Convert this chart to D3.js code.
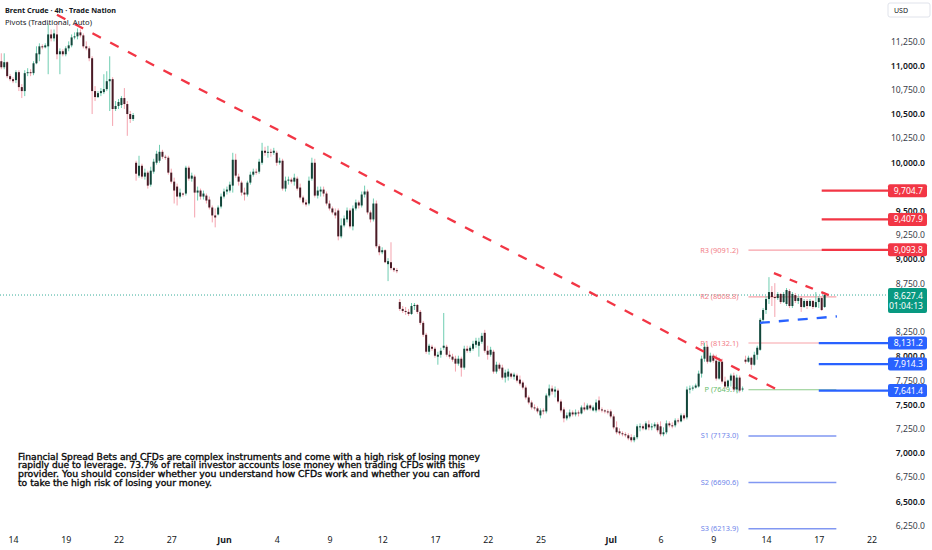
<!DOCTYPE html>
<html><head><meta charset="utf-8">
<script src="https://cdn.jsdelivr.net/npm/d3@7"></script>
<style>html,body{margin:0;padding:0;background:#fff}svg{display:block}</style>
</head><body>
<svg id="c" width="932" height="550"></svg>
<script>
// ---------- DATA ----------
// 4h candles [open, high, low, close]
const ohlc = [
[11041,11123,10959,10979],[10979,11123,10959,11031],[11031,11041,10866,10887],[10887,10907,10835,10856],[10856,10876,10815,10835],
[10846,10948,10815,10928],[10928,10948,10733,10774],[10774,10805,10661,10733],[10733,10948,10681,10918],[10918,10969,10887,10928],
[10928,10959,10887,10918],[10918,11041,10897,11020],[11020,11195,11010,11123],[11113,11226,11041,11195],[11195,11215,11164,11185],
[11185,11226,11174,11205],[11195,11431,10907,11318],[11318,11369,11246,11277],[11277,11369,11246,11328],[11318,11452,11061,11113],
[11113,11174,10907,11144],[11144,11164,11092,11113],[11113,11195,11092,11174],[11174,11246,11144,11205],[11205,11318,11185,11287],
[11287,11339,11267,11298],[11298,11380,11267,11339],[11339,11369,11287,11308],[11308,11328,11174,11195],[11195,11246,11154,11174],
[11174,11195,11041,11072],[11072,11092,10496,10733],[10733,10784,10630,10671],[10671,10733,10661,10712],[10712,10764,10681,10733],
[10722,10907,10702,10753],[10753,10938,10733,10835],[10835,11092,10527,10856],[10856,10876,10373,10548],[10548,10630,10527,10579],
[10579,10651,10548,10620],[10589,10681,10558,10661],[10661,10764,10548,10599],[10599,10630,10271,10496],[10496,10527,10404,10445],
[10445,10507,10425,10486],
[9993,10014,9808,9880],[9860,10065,9839,9962],[9962,9983,9829,9850],[9850,9932,9819,9891],[9891,9911,9726,9757],
[9767,9952,9747,9911],[9901,10034,9880,10004],[9993,10117,9973,10086],[10014,10178,9993,10106],[10106,10127,10034,10055],
[10055,10075,10024,10045],[10045,10065,9870,9891],[9891,9932,9778,9798],[9798,9839,9572,9706],[9747,9778,9552,9644],
[9644,9726,9624,9685],[9675,9685,9644,9665],[9675,9962,9654,9942],[9942,9962,9808,9829],[9829,9891,9798,9860],
[9850,9870,9428,9685],[9685,9747,9603,9706],[9706,9726,9613,9644],[9644,9706,9613,9675],[9654,9675,9572,9603],
[9613,9644,9511,9531],[9531,9552,9377,9449],[9449,9521,9326,9428],[9459,9552,9449,9531],[9541,9675,9521,9644],
[9644,9726,9624,9696],[9696,9747,9665,9716],[9706,9798,9685,9767],[9757,10096,9685,10024],[10024,10086,9839,9860],
[9850,9880,9757,9798],[9788,9808,9654,9685],[9685,9736,9603,9665],[9665,9808,9644,9788],[9788,9901,9767,9870],
[9870,9932,9850,9901],[9901,9932,9870,9891],[9901,10034,9880,10004],[9993,10199,9973,10117],[10117,10158,10065,10096],
[10096,10168,10045,10106],[10106,10137,10055,10096],[10096,10147,10075,10117],[10096,10117,9962,9993],[9993,10045,9973,10014],
[10014,10034,9706,9726],[9726,9850,9696,9808],[9808,9850,9767,9819],[9819,9839,9778,9798],[9798,9880,9757,9839],
[9829,9850,9706,9726],[9737,9778,9613,9634],[9634,9654,9562,9583],[9583,9613,9541,9562],[9572,9850,9552,9808],
[9829,10045,9808,9993],[9993,10034,9634,9654],[9654,9747,9624,9706],[9696,9747,9644,9716],[9716,9747,9644,9675],
[9675,9696,9552,9572],[9572,9603,9500,9521],[9521,9541,9459,9480],[9480,9521,9418,9449],[9500,9521,9192,9233],
[9233,9418,9213,9346],[9346,9449,9326,9418],[9408,9531,9377,9500],[9500,9521,9315,9336],[9336,9552,9295,9521],
[9521,9613,9500,9583],[9583,9603,9521,9552],[9552,9696,9531,9665],[9665,9757,9634,9696],[9696,9716,9459,9480],
[9480,9500,9377,9408],[9408,9624,9387,9572],[9572,9603,9110,9131],[9131,9151,9038,9069],[9069,9120,9049,9090],
[9090,9100,8956,8966],[8946,9008,8771,8977],[8966,9172,8884,8905],[8905,8915,8864,8884],[8884,8905,8853,8874],
[8555,8586,8463,8484],[8484,8514,8442,8463],[8463,8504,8422,8453],[8453,8484,8412,8432],[8432,8545,8422,8514],
[8514,8545,8473,8525],[8525,8535,8432,8453],[8453,8473,8319,8340],[8340,8360,8196,8217],[8217,8237,8021,8042],
[8042,8124,8011,8104],[8093,8114,8052,8073],[8073,8093,7980,8001],[7991,8042,7908,8011],[8011,8083,7980,8052],
[8083,8442,8062,8104],[8093,8114,7991,8011],[8011,8052,7970,7991],[7991,8021,7939,7960],[7970,8001,7837,7919],
[7919,8001,7898,7970],[7970,7991,7785,7878],[7878,8104,7857,8073],[8073,8104,8032,8052],[8052,8104,8032,8083],
[8073,8155,8052,8124],[8114,8186,8083,8155],[8104,8186,7991,8145],[8145,8237,8124,8206],[8237,8268,8032,8052],
[8052,8104,7960,8011],[8011,8093,7991,8062],[8042,8062,7816,7837],[7837,7939,7816,7908],[7908,7929,7847,7867],
[7878,7908,7754,7775],[7775,7857,7724,7826],[7785,7867,7744,7837],[7816,7826,7765,7785],[7785,7826,7754,7806],
[7796,7816,7724,7744],[7754,7796,7693,7713],[7724,7744,7652,7672],[7672,7693,7549,7570],[7570,7590,7498,7518],
[7518,7539,7446,7467],[7467,7498,7436,7457],[7457,7477,7405,7426],[7385,7457,7354,7436],[7436,7457,7395,7426],
[7426,7611,7405,7590],[7590,7703,7570,7662],[7662,7693,7600,7631],[7631,7683,7570,7652],[7641,7662,7508,7528],
[7528,7549,7415,7436],[7446,7467,7313,7354],[7354,7415,7333,7385],[7374,7446,7354,7415],[7415,7436,7374,7395],
[7395,7446,7374,7415],[7415,7436,7374,7405],[7405,7487,7395,7467],[7467,7518,7426,7446],[7446,7508,7436,7487],
[7487,7498,7436,7457],[7436,7487,7426,7467],[7436,7549,7415,7518],[7539,7580,7426,7446],[7446,7467,7415,7436],
[7436,7446,7405,7426],[7426,7446,7395,7415],[7426,7446,7354,7374],[7374,7395,7241,7261],[7261,7323,7190,7210],
[7220,7251,7179,7200],[7200,7220,7169,7190],[7190,7210,7159,7179],[7179,7200,7128,7148],[7159,7190,7107,7128],
[7128,7179,7107,7159],[7159,7292,7138,7272],[7261,7302,7220,7272],[7272,7292,7231,7251],[7241,7323,7231,7302],
[7292,7333,7231,7261],[7261,7302,7231,7272],[7272,7313,7251,7292],[7292,7313,7210,7231],[7272,7323,7169,7190],
[7190,7261,7169,7210],[7210,7333,7190,7302],[7302,7323,7261,7282],[7282,7313,7251,7272],[7282,7354,7261,7333],
[7333,7354,7302,7323],[7323,7405,7313,7385],[7385,7405,7333,7354],
[7364,7683,7343,7652],[7652,7693,7611,7662],[7662,7693,7641,7672],[7672,7713,7662,7693],[7683,7847,7672,7816],
[7816,8001,7775,7970],[7970,8134,7939,8093],[8093,8114,7919,7939],[7939,8032,7929,8001],[8001,8021,7929,7949],
[7949,8011,7744,7765],[7765,7980,7754,7939],[7939,7970,7713,7734],[7734,7785,7662,7683],[7683,7754,7672,7744],
[7744,7816,7683,7796],[7796,7826,7631,7652],[7652,7806,7621,7775],[7775,7796,7621,7641],[7652,7683,7631,7662],
[7960,8001,7919,7939],[7939,8001,7929,7980],[7980,7991,7857,7908],[7908,8042,7898,8011],[8011,8104,7960,8083],
[8062,8391,8052,8371],[8371,8494,8350,8473],[8473,8617,8432,8586],[8586,8812,8535,8658],[8658,8720,8514,8607],
[8607,8750,8401,8596],[8596,8658,8576,8638],[8638,8648,8535,8555],[8555,8658,8545,8638],[8535,8699,8514,8679],
[8668,8689,8494,8514],[8514,8658,8494,8638],[8627,8648,8545,8566],[8566,8617,8535,8596],[8596,8617,8453,8504],
[8504,8586,8494,8566],[8566,8586,8483,8514],[8514,8586,8504,8566],[8566,8576,8483,8504],[8504,8658,8494,8555],
[8555,8617,8494,8596],[8596,8607,8463,8473],[8504,8658,8494,8627.4]
];

const xTickLabels = ["14","19","22","27","Jun","4","9","12","17","22","25","Jul","6","9","14","17","22"];
const xTickBars   = [4,22,40,58,76,94,112,130,148,166,184,208,225,243,261,279,297];
// axis labels visible in the reference (8,500 and 9,750 sit under price boxes)
const yTickValues = [6250,6500,6750,7000,7250,7500,7750,8000,8250,8750,9000,9250,9500,10000,10250,10500,10750,11000,11250];

const pivotNames  = ["R3","R2","R1","P","S1","S2","S3"];
const pivotValues = [9091.2,8608.8,8132.1,7649.7,7173.0,6690.6,6213.9];
const pivotBars   = [255,285];

const redLevels  = [9704.7,9407.9,9093.8];
const blueLevels = [8131.2,7914.3,7641.4];
const redRayBar = 280, blueRayBar = 279;

// trend line drawings: [bar, price] endpoints
const mainTrend  = [[19,11520],[264.8,7650]];
const flagUpper  = [[263.7,8853],[284.9,8596]];
const flagLower  = [[258.9,8340],[285.2,8407]];

const lastPrice = 8627.4, countdown = "01:04:13";
const title = "Brent Crude · 4h · Trade Nation";
const subtitle = "Pivots (Traditional, Auto)";
const disclaimer = [
 "Financial Spread Bets and CFDs are complex instruments and come with a high risk of losing money",
 "rapidly due to leverage. 73.7% of retail investor accounts lose money when trading CFDs with this",
 "provider. You should consider whether you understand how CFDs work and whether you can afford",
 "to take the high risk of losing your money."
];

// ---------- DRAW ----------
const FONT = '"Noto Sans", sans-serif';
const svg = d3.select('#c');
const AX = 888;
const x = d3.scaleLinear().domain([0,300]).range([1.3, 1.3+300*2.93]);
const y = d3.scaleLinear().domain([6250,11250]).range([525.3,41.0]);
const fmt = d3.format(',.1f');

// current price dotted line
svg.append('line').attr('x1',0).attr('x2',AX).attr('y1',y(lastPrice)).attr('y2',y(lastPrice))
  .attr('stroke','#089981').attr('stroke-width',1).attr('stroke-dasharray','1,2').attr('opacity',0.8);

// pivots
const pivotColor = n => n[0]==='R' ? '#f7a1a8' : n[0]==='S' ? '#8197f2' : '#8ccb8a';
const pivotText  = n => n[0]==='R' ? '#f27e88' : n[0]==='S' ? '#6f86ea' : '#66bb6a';
const pg = svg.append('g');
pivotValues.forEach((v,i)=>{
  const n = pivotNames[i];
  pg.append('line').attr('x1',x(pivotBars[0])).attr('x2',x(pivotBars[1]))
    .attr('y1',y(v)).attr('y2',y(v)).attr('stroke',pivotColor(n))
    .attr('stroke-width', n[0]==='S'?1.5:1.2);
  pg.append('text').attr('x',x(pivotBars[0])-10).attr('y',y(v)).attr('dy','0.35em')
    .attr('text-anchor','end').attr('font-family',FONT).attr('font-size',7.4)
    .attr('fill',pivotText(n)).text(`${n} (${v.toFixed(1)})`);
});

// candles
const cg = svg.append('g');
ohlc.forEach((d,i)=>{
  const [o,h,l,c] = d;
  const up = c >= o;
  const cx = x(i);
  cg.append('line').attr('x1',cx).attr('x2',cx).attr('y1',y(h)).attr('y2',y(l))
    .attr('stroke', up ? '#6fcdb1' : '#f4a3ae').attr('stroke-width',1);
  const top = Math.min(y(o),y(c)), ht = Math.max(1, Math.abs(y(o)-y(c)));
  cg.append('rect').attr('x',cx-1).attr('y',top).attr('width',2).attr('height',ht)
    .attr('fill', up ? '#12463a' : '#4a1b26');
});

// trend lines
const line = d3.line().x(p=>x(p[0])).y(p=>y(p[1]));
svg.append('path').attr('d',line(mainTrend)).attr('fill','none').attr('stroke','#f23645')
  .attr('stroke-width',2.3).attr('stroke-dasharray','9.5,10.5');
svg.append('path').attr('d',line(flagUpper)).attr('fill','none').attr('stroke','#f23645')
  .attr('stroke-width',2.3).attr('stroke-dasharray','8,9');
svg.append('path').attr('d',line(flagLower)).attr('fill','none').attr('stroke','#2962ff')
  .attr('stroke-width',2.3).attr('stroke-dasharray','10,9');

// horizontal rays
redLevels.forEach(v=>svg.append('line').attr('x1',x(redRayBar)).attr('x2',AX).attr('y1',y(v)).attr('y2',y(v))
  .attr('stroke','#f23645').attr('stroke-width',2.3));
blueLevels.forEach(v=>svg.append('line').attr('x1',x(blueRayBar)).attr('x2',AX).attr('y1',y(v)).attr('y2',y(v))
  .attr('stroke','#2962ff').attr('stroke-width',2.3));

// y axis
const gy = svg.append('g').attr('transform','translate(925,0)')
  .call(d3.axisRight(y).tickValues(yTickValues).tickSize(0).tickPadding(0).tickFormat(fmt));
gy.select('.domain').remove();
gy.attr('font-family',FONT).attr('font-size',8.6);
gy.selectAll('text').attr('x',0).attr('dy','0.35em').attr('text-anchor','end')
  .attr('fill', d => d%500===0 ? '#131722' : '#3a3e4a')
  .attr('font-weight', d => d%500===0 ? 600 : 400);

// price label boxes
function box(v, color, txt){
  const cy = y(v);
  svg.append('rect').attr('x',AX).attr('y',cy-6.5).attr('width',39).attr('height',13).attr('rx',2).attr('fill',color);
  svg.append('text').attr('x',923).attr('y',cy).attr('dy','0.35em').attr('text-anchor','end')
    .attr('font-family',FONT).attr('font-size',8.6).attr('fill','#fff').text(txt);
}
redLevels.forEach(v=>box(v,'#f23645',fmt(v)));
blueLevels.forEach(v=>box(v,'#2962ff',fmt(v)));
{
  const cy = y(lastPrice);
  svg.append('rect').attr('x',AX).attr('y',cy-7).attr('width',39).attr('height',25).attr('rx',2).attr('fill','#089981');
  svg.append('text').attr('x',923).attr('y',cy+0.5).attr('dy','0.35em').attr('text-anchor','end')
    .attr('font-family',FONT).attr('font-size',8.6).attr('fill','#fff').text(fmt(lastPrice));
  svg.append('text').attr('x',923).attr('y',cy+10.5).attr('dy','0.35em').attr('text-anchor','end')
    .attr('font-family',FONT).attr('font-size',8.6).attr('fill','#fff').text(countdown);
}

// x axis
const gx = svg.append('g').attr('transform','translate(0,540)')
  .call(d3.axisBottom(x).tickValues(xTickBars).tickSize(0).tickPadding(0).tickFormat((d,i)=>xTickLabels[i]));
gx.select('.domain').remove();
gx.attr('font-family',FONT).attr('font-size',8.8);
gx.selectAll('text').attr('y',0).attr('dy','0.35em').attr('fill','#131722')
  .attr('font-weight',(d,i)=> /^[A-Z]/.test(xTickLabels[i]) ? 700 : 400);

// USD box
svg.append('rect').attr('x',AX).attr('y',3).attr('width',42).attr('height',14).attr('rx',2)
  .attr('fill','#fff').attr('stroke','#e0e3eb');
svg.append('text').attr('x',894).attr('y',10.5).attr('dy','0.35em').attr('font-family',FONT)
  .attr('font-size',7).attr('fill','#131722').text('USD');

// header
svg.append('text').attr('x',5).attr('y',13.2).attr('font-family',FONT).attr('font-weight',700)
  .attr('font-size',7.8).attr('fill','#131722').attr('textLength',111).attr('lengthAdjust','spacingAndGlyphs').text(title);
svg.append('text').attr('x',5).attr('y',24.5).attr('font-family',FONT)
  .attr('font-size',7.6).attr('fill','#131722').attr('textLength',87).attr('lengthAdjust','spacingAndGlyphs').text(subtitle);

// disclaimer
const dLens = [462,447,462,194];
disclaimer.forEach((t,i)=>{
  svg.append('text').attr('x',18).attr('y',459.5+i*8.9).attr('font-family','"DejaVu Sans", sans-serif')
    .attr('font-size',8.7).attr('fill','#0a0a0a').attr('stroke','#0a0a0a').attr('stroke-width',0.35)
    .attr('textLength',dLens[i]).attr('lengthAdjust','spacingAndGlyphs').text(t);
});
</script>
</body></html>
